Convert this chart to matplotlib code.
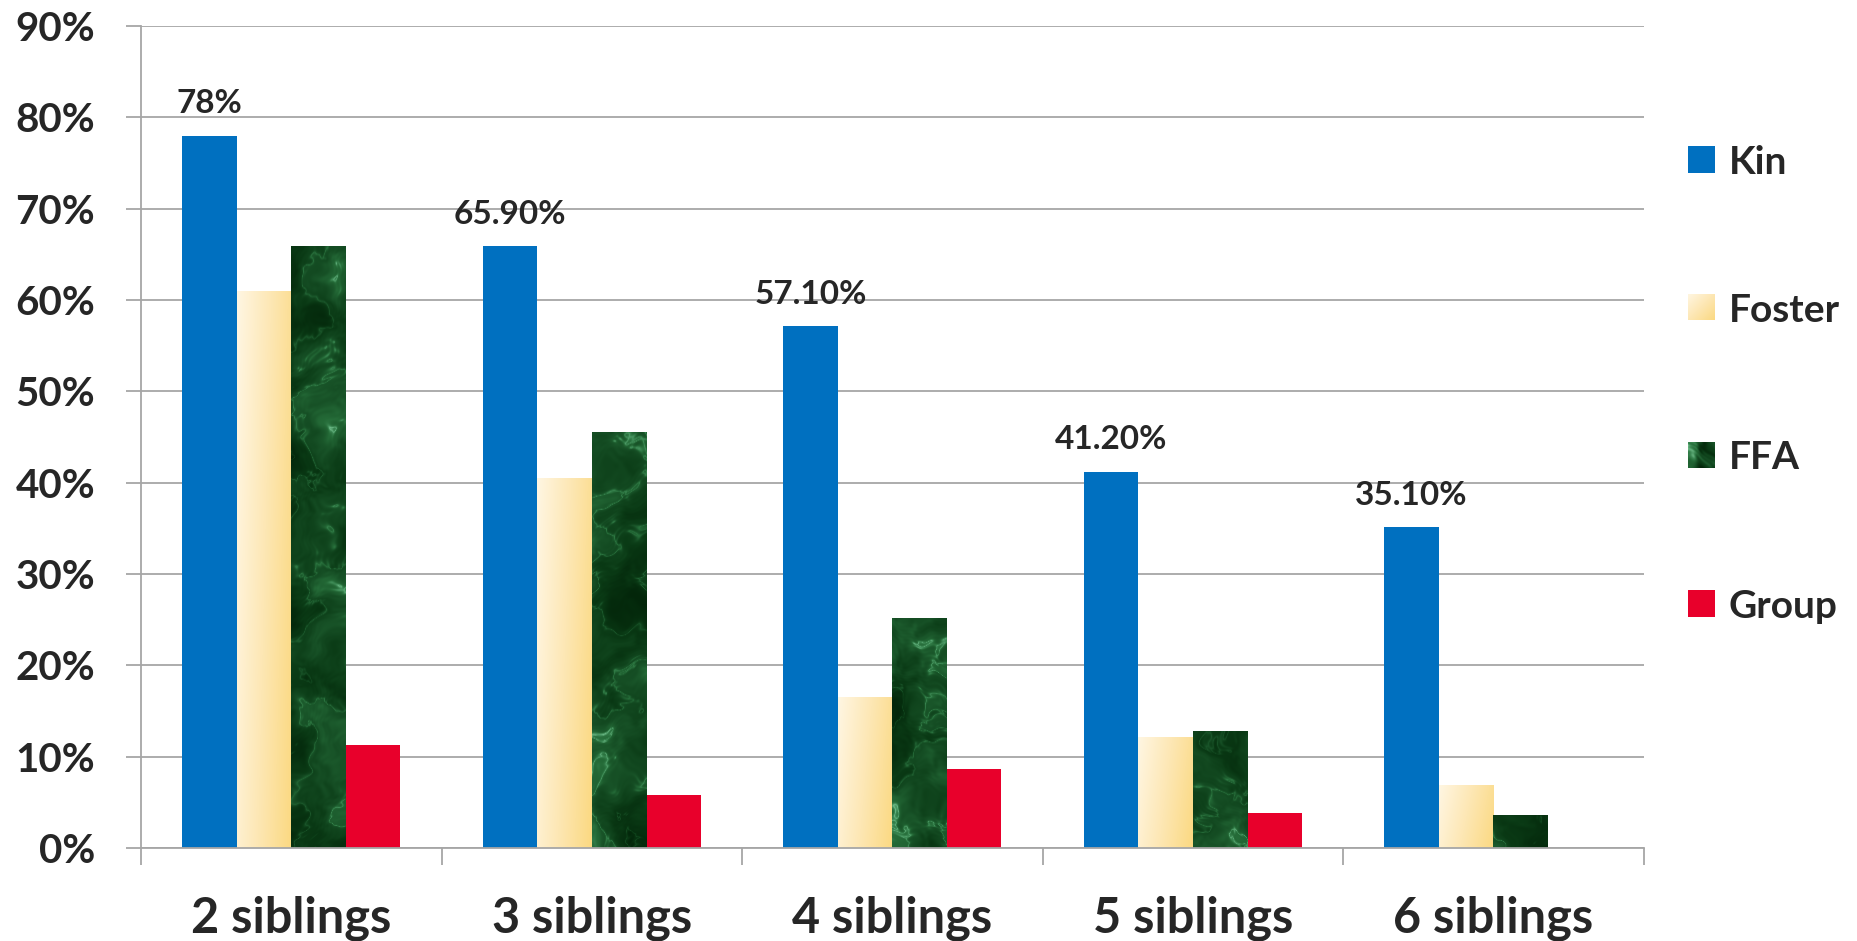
import numpy as np
import matplotlib
matplotlib.use('Agg')
import matplotlib.pyplot as plt
from matplotlib.colors import LinearSegmentedColormap

# ---------------- data ----------------
categories = ['2 siblings', '3 siblings', '4 siblings', '5 siblings', '6 siblings']
series_names = ['Kin', 'Foster', 'FFA', 'Group']
kin = [78.0, 65.9, 57.1, 41.2, 35.1]
foster = [61.0, 40.5, 16.5, 12.1, 6.9]
ffa = [65.9, 45.6, 25.2, 12.8, 3.6]
group = [11.3, 5.8, 8.7, 3.8, 0.0]
kin_labels = ['78%', '65.90%', '57.10%', '41.20%', '35.10%']
yticks = [0, 10, 20, 30, 40, 50, 60, 70, 80, 90]

# ---------------- style ----------------
FONT = 'Lato'
TXT = '#262626'
GRID = '#a6a6a6'
BLUE = '#0070c0'
RED = '#e8002b'
plt.rcParams['font.family'] = [FONT, 'DejaVu Sans']

W, H = 1858, 941
fig = plt.figure(figsize=(W / 100, H / 100), dpi=100)
fig.patch.set_facecolor('white')

ax_left, ax_right = 141, 1643.6
ax_top, ax_bottom = 26, 848
ax = fig.add_axes([ax_left / W, (H - ax_bottom) / H,
                   (ax_right - ax_left) / W, (ax_bottom - ax_top) / H])

ncat = len(categories)
bw = 0.1814
offsets = [-1.5, -0.5, 0.5, 1.5]
x = np.arange(ncat)

foster_cmap = LinearSegmentedColormap.from_list('fo', ['#fff6e2', '#fde7b4', '#fbd982'])
ffa_cmap = LinearSegmentedColormap.from_list(
    'ff', ['#03260a', '#0a3a15', '#164f25', '#246a37', '#3d8a55', '#6bb885'])


def fractal(u, v, shift, octaves=9):
    total = np.zeros_like(u)
    for k in range(octaves):
        ang = k * 2.39996 + shift * 0.7
        f = 0.035 * (1.55 ** k)
        ph = (k * 1.618 + shift * 0.913) % (2 * np.pi)
        total += np.sin(f * (np.cos(ang) * u + np.sin(ang) * v) + ph) / (1.55 ** (0.85 * k))
    return total


def marble(h, w, shift):
    v, u = np.mgrid[0:h, 0:w].astype(float)
    u = u + shift * 61.0
    v = v + shift * 37.0
    wu = fractal(u, v, shift + 3.1, 6)
    wv = fractal(v, u, shift + 5.7, 6)
    n = fractal(u + 9.0 * wu, v + 9.0 * wv, shift, 9)
    veins = np.abs(np.sin(0.5 * n * 3.0 + 0.02 * (u + v)))
    t = 0.7 * (n - n.min()) / (n.max() - n.min()) + 0.3 * (1 - veins) ** 6
    t = (t - t.min()) / (t.max() - t.min())
    return t ** 1.3


def gradient(h, w):
    v, u = np.mgrid[0:h, 0:w].astype(float)
    t = 0.8 * u / max(w - 1, 1) + 0.2 * v / max(h - 1, 1)
    return t

# ---------------- bars ----------------
all_series = [kin, foster, ffa, group]
bars = []
for si, vals in enumerate(all_series):
    xs = x + offsets[si] * bw
    if si == 0:
        b = ax.bar(xs, vals, bw, color=BLUE, linewidth=0, zorder=3)
    elif si == 3:
        b = ax.bar(xs, vals, bw, color=RED, linewidth=0, zorder=3)
    else:
        b = ax.bar(xs, vals, bw, color='none', linewidth=0, zorder=3)
    bars.append(b)

# texture fills clipped to bars
for ci, rect in enumerate(bars[1]):
    x0, wdt, hgt = rect.get_x(), rect.get_width(), rect.get_height()
    img = gradient(200, 40)
    im = ax.imshow(img, cmap=foster_cmap, extent=(x0, x0 + wdt, 0, hgt), origin='upper',
                   aspect='auto', zorder=3, interpolation='bilinear')
    im.set_clip_path(rect)
for ci, rect in enumerate(bars[2]):
    x0, wdt = rect.get_x(), rect.get_width()
    img = marble(820, 55, ci)
    im = ax.imshow(img, cmap=ffa_cmap, extent=(x0, x0 + wdt, 0, 90), origin='upper',
                   aspect='auto', zorder=3, interpolation='bilinear')
    im.set_clip_path(rect)

# data labels on Kin bars
for rect, lab in zip(bars[0], kin_labels):
    ax.annotate(lab, (rect.get_x() + rect.get_width() / 2, rect.get_height()),
                xytext=(0, 16), textcoords='offset points', ha='center', va='baseline',
                fontsize=24, fontweight='bold', color=TXT, zorder=5)

# ---------------- axes ----------------
ax.set_xlim(-0.5, ncat - 0.5)
ax.set_ylim(0, 90)
ax.set_yticks(yticks)
ax.set_yticklabels([f'{v}%' for v in yticks], fontsize=29, fontweight='bold', color=TXT)
ax.yaxis.grid(True, color=GRID, linewidth=1.3, zorder=0)
ax.set_axisbelow(True)
ax.tick_params(axis='y', length=11, width=1.3, color=GRID, pad=22, direction='out')

ax.set_xticks(x)
ax.set_xticklabels(categories, fontsize=35, fontweight='bold', color=TXT)
ax.set_xticks(np.arange(-0.5, ncat, 1.0), minor=True)
ax.tick_params(axis='x', which='major', length=0, pad=34)
ax.tick_params(axis='x', which='minor', length=12, width=1.3, color=GRID, direction='out')

for side in ['top', 'right']:
    ax.spines[side].set_visible(False)
for side in ['left', 'bottom']:
    ax.spines[side].set_color(GRID)
    ax.spines[side].set_linewidth(1.3)
ax.spines['bottom'].set_zorder(4)

# ---------------- legend (manual) ----------------
leg_y = [159, 307, 455, 603]
mk = 27
for i, name in enumerate(series_names):
    yc = leg_y[i]
    max_ = fig.add_axes([1688 / W, (H - yc - mk / 2) / H, mk / W, mk / H])
    max_.set_axis_off()
    if i == 0:
        max_.add_patch(plt.Rectangle((0, 0), 1, 1, color=BLUE))
    elif i == 3:
        max_.add_patch(plt.Rectangle((0, 0), 1, 1, color=RED))
    elif i == 1:
        vv, uu = np.mgrid[0:40, 0:40].astype(float)
        max_.imshow((uu + vv) / 78.0, cmap=foster_cmap, extent=(0, 1, 0, 1), aspect='auto')
    else:
        max_.imshow(marble(27, 27, 7), cmap=ffa_cmap, extent=(0, 1, 0, 1), aspect='auto')
    max_.set_xlim(0, 1)
    max_.set_ylim(0, 1)
    fig.text(1729 / W, (H - yc) / H, name, fontsize=28, fontweight='bold', color=TXT,
             ha='left', va='center_baseline')

fig.savefig('out.png', dpi=100, facecolor='white')
